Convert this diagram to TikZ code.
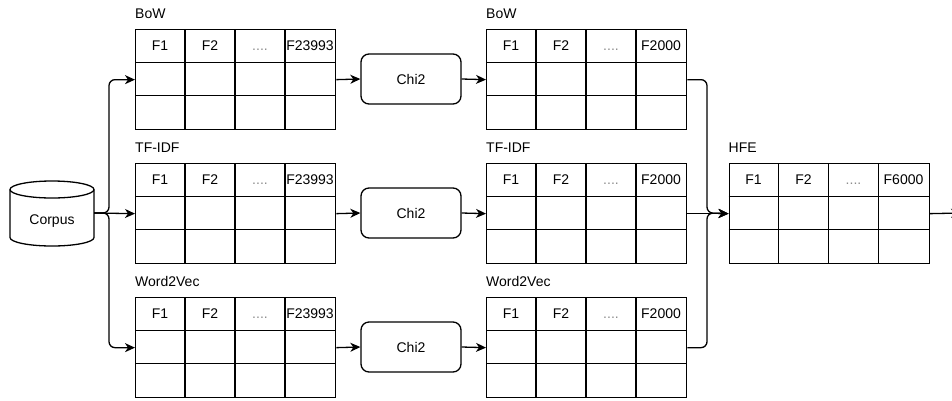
\documentclass[tikz,border=0pt]{standalone}
\usepackage{fontspec}
\setmainfont{Liberation Sans}
\usetikzlibrary{arrows.meta}
\tikzset{
  tbl/.style={draw, line width=1.3pt, minimum width=200pt, minimum height=100pt, inner sep=0pt, anchor=north west},
  gridline/.style={line width=1.3pt},
  hdr/.style={font=\fontsize{14}{16}\selectfont, inner sep=0pt, text height=10pt, text depth=0pt},
  dots/.style={font=\fontsize{14}{16}\selectfont, inner sep=0pt, text height=10pt, text depth=0pt, text=black!45},
  lbl/.style={font=\fontsize{14}{16}\selectfont, inner sep=0pt, anchor=west},
  procbox/.style={draw, line width=1.3pt, rounded corners=8pt, minimum width=100pt, minimum height=50pt, inner sep=0pt, font=\fontsize{14}{16}\selectfont},
  arr/.style={line width=1.3pt, -{Stealth[length=10pt,width=9pt,inset=3pt]}},
}
\newcommand\mktable[5]{%
  \node[tbl] (#1) at (#2,#3) {};
  \node[lbl] (#1-lbl) at (#2,#3-15.5) {#4};
  \draw[gridline] (#2+50,#3) -- (#2+50,#3+100);
  \draw[gridline] (#2+100,#3) -- (#2+100,#3+100);
  \draw[gridline] (#2+150,#3) -- (#2+150,#3+100);
  \draw[gridline] (#2,#3+33.33) -- (#2+200,#3+33.33);
  \draw[gridline] (#2,#3+66.67) -- (#2+200,#3+66.67);
  \node[hdr] (#1-h1) at (#2+25,#3+16.7) {F1};
  \node[hdr] (#1-h2) at (#2+75,#3+16.7) {F2};
  \node[dots] (#1-h3) at (#2+125,#3+16.7) {....};
  \node[hdr] (#1-h4) at (#2+175,#3+16.7) {#5};
}
\begin{document}
\begin{tikzpicture}[x=1pt,y=-1pt]
\useasboundingbox (0,0) rectangle (952,400);

% Corpus cylinder
\node[minimum width=84pt, minimum height=66pt, inner sep=0pt] (corpus) at (52,213) {};
\draw[line width=1.3pt, fill=white] (10,189.5) -- (10,237.5) arc[start angle=180, end angle=360, x radius=42, y radius=-8.5] -- (94,189.5);
\draw[line width=1.3pt] (52,189.5) ellipse[x radius=42, y radius=8.5];
\node[hdr] (corpus-txt) at (52,219) {Corpus};

% left tables
\mktable{bowA}{135}{29}{BoW}{F23993}
\mktable{tfA}{135}{163}{TF-IDF}{F23993}
\mktable{wvA}{135}{297}{Word2Vec}{F23993}

% Chi2 boxes
\node[procbox] (chiA) at (411,79) {Chi2};
\node[procbox] (chiB) at (411,213) {Chi2};
\node[procbox] (chiC) at (411,347) {Chi2};

% middle tables
\mktable{bowB}{486}{29}{BoW}{F2000}
\mktable{tfB}{486}{163}{TF-IDF}{F2000}
\mktable{wvB}{486}{297}{Word2Vec}{F2000}

% HFE
\mktable{hfe}{728.5}{163}{HFE}{F6000}

% connectors
\coordinate (j1) at (109,213);
\coordinate (j2) at (707,213);
\coordinate (out) at (961,213);

\draw[arr, rounded corners=6pt] (corpus.east) -- (j1) |- (bowA.west);
\draw[arr, rounded corners=6pt] (corpus.east) -- (j1) |- (wvA.west);
\draw[arr] (corpus.east) -- (tfA.west);

\draw[arr] (bowA.east) -- (chiA.west);
\draw[arr] (tfA.east) -- (chiB.west);
\draw[arr] (wvA.east) -- (chiC.west);
\draw[arr] (chiA.east) -- (bowB.west);
\draw[arr] (chiB.east) -- (tfB.west);
\draw[arr] (chiC.east) -- (wvB.west);

\draw[arr, rounded corners=6pt] (bowB.east) -| (j2) -- (hfe.west);
\draw[arr, rounded corners=6pt] (wvB.east) -| (j2) -- (hfe.west);
\draw[arr] (tfB.east) -- (hfe.west);

\draw[arr] (hfe.east) -- (out);
\end{tikzpicture}
\end{document}
